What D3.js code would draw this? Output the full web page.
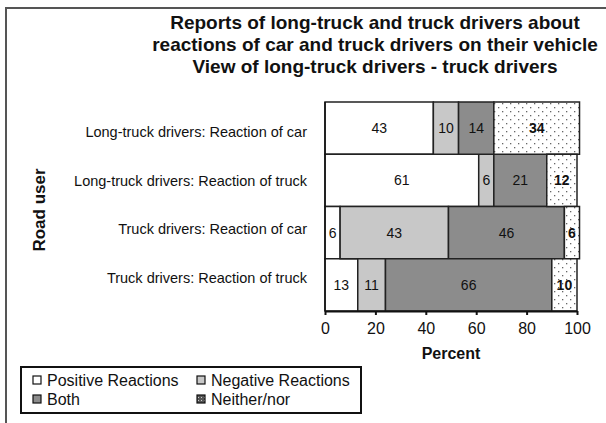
<!DOCTYPE html>
<html>
<head>
<meta charset="utf-8">
<script src="https://cdn.jsdelivr.net/npm/d3@7"></script>
<style>
  body { margin: 0; background: #fff; }
  text { font-family: "Liberation Sans", Arial, sans-serif; fill: #111; }
</style>
</head>
<body>
<div id="chart"></div>
<script>
// Chart data
var categories = [
  "Long-truck drivers: Reaction of car",
  "Long-truck drivers: Reaction of truck",
  "Truck drivers: Reaction of car",
  "Truck drivers: Reaction of truck"
];
var seriesNames = ["Positive Reactions", "Negative Reactions", "Both", "Neither/nor"];
var positive = [43, 61, 6, 13];
var negative = [10, 6, 43, 11];
var both = [14, 21, 46, 66];
var neither = [34, 12, 6, 10];
var xTicks = [0, 20, 40, 60, 80, 100];
var titleLines = [
  "Reports of long-truck and truck drivers about",
  "reactions of car and truck drivers on their vehicle",
  "View of long-truck drivers - truck drivers"
];

var svgWidth = 606;
var svgHeight = 423;
var margin = { top: 102, right: 29, bottom: 112, left: 325 };
var chartWidth = svgWidth - margin.left - margin.right;
var chartHeight = svgHeight - margin.top - margin.bottom;

var svg = d3.select("#chart")
  .append("svg")
  .attr("width", svgWidth)
  .attr("height", svgHeight);

// patterns for the dotted series
var defs = svg.append("defs");
var dots = defs.append("pattern")
  .attr("id", "dots")
  .attr("width", 8).attr("height", 8)
  .attr("patternUnits", "userSpaceOnUse");
dots.append("rect").attr("width", 8).attr("height", 8).attr("fill", "#fff");
dots.append("rect").attr("x", 1).attr("y", 1).attr("width", 1.3).attr("height", 1.3).attr("fill", "#666");
dots.append("rect").attr("x", 5).attr("y", 5).attr("width", 1.3).attr("height", 1.3).attr("fill", "#666");

var dotsDark = defs.append("pattern")
  .attr("id", "dotsDark")
  .attr("width", 3).attr("height", 3)
  .attr("patternUnits", "userSpaceOnUse");
dotsDark.append("rect").attr("width", 3).attr("height", 3).attr("fill", "#555");
dotsDark.append("rect").attr("x", 1).attr("y", 1).attr("width", 1).attr("height", 1).attr("fill", "#ccc");

var fills = ["#ffffff", "#c8c8c8", "#8c8c8c", "url(#dots)"];

// outer frame (only left and top edges visible)
svg.append("path")
  .attr("d", "M6," + svgHeight + "V8H" + svgWidth)
  .attr("fill", "none")
  .attr("stroke", "#555")
  .attr("stroke-width", 2);

// title
svg.append("g").selectAll("text")
  .data(titleLines)
  .enter()
  .append("text")
  .attr("x", 375)
  .attr("y", (d, i) => 29 + i * 22)
  .attr("text-anchor", "middle")
  .style("font-size", "19px")
  .style("font-weight", "bold")
  .text(d => d);

var chartGroup = svg.append("g")
  .attr("transform", `translate(${margin.left}, ${margin.top})`);

var rows = categories.map((c, i) => ({
  category: c,
  "Positive Reactions": positive[i],
  "Negative Reactions": negative[i],
  "Both": both[i],
  "Neither/nor": neither[i]
}));

var stacked = d3.stack().keys(seriesNames)(rows);

var xScale = d3.scaleLinear().domain([0, 100]).range([0, chartWidth]);
var yScale = d3.scaleBand().domain(categories).range([0, chartHeight]).padding(0);
// the category labels sit on a slightly narrower spread than the bars
var labelScale = d3.scalePoint().domain(categories).range([30, 176]);

var layers = chartGroup.selectAll(".layer")
  .data(stacked)
  .enter()
  .append("g")
  .attr("class", "layer")
  .attr("fill", (d, i) => fills[i]);

layers.selectAll("rect")
  .data(d => d)
  .enter()
  .append("rect")
  .attr("x", d => xScale(d[0]))
  .attr("y", d => yScale(d.data.category))
  .attr("width", d => xScale(d[1]) - xScale(d[0]))
  .attr("height", yScale.bandwidth())
  .attr("stroke", "#222")
  .attr("stroke-width", 1.5);

// value labels
layers.each(function(series, si) {
  d3.select(this).selectAll("text")
    .data(series)
    .enter()
    .append("text")
    .attr("x", d => xScale((d[0] + d[1]) / 2))
    .attr("y", d => yScale(d.data.category) + yScale.bandwidth() / 2)
    .attr("dy", "0.35em")
    .attr("text-anchor", "middle")
    .style("font-size", "14px")
    .style("font-weight", si === 3 ? "bold" : "normal")
    .style("fill", "#111")
    .text(d => d[1] - d[0]);
});

// x axis
var xAxis = d3.axisBottom(xScale).tickValues(xTicks).tickSize(4).tickSizeOuter(0).tickPadding(8);
var xg = chartGroup.append("g")
  .attr("transform", `translate(0, ${chartHeight})`)
  .call(xAxis);
xg.select(".domain").attr("stroke", "#111").attr("stroke-width", 2);
xg.selectAll(".tick line").attr("stroke", "#111").attr("stroke-width", 2);
xg.selectAll(".tick text")
  .style("font-size", "16px")
  .style("font-family", "'Liberation Sans', Arial, sans-serif")
  .attr("fill", "#111");

// y axis line and category labels
chartGroup.append("line")
  .attr("x1", 0).attr("x2", 0)
  .attr("y1", 0).attr("y2", chartHeight)
  .attr("stroke", "#111").attr("stroke-width", 1.5);

chartGroup.append("g").selectAll("text")
  .data(categories)
  .enter()
  .append("text")
  .attr("x", -18)
  .attr("y", d => labelScale(d))
  .attr("dy", "0.35em")
  .attr("text-anchor", "end")
  .style("font-size", "14.5px")
  .text(d => d);

// axis titles
svg.append("text")
  .attr("x", margin.left + chartWidth / 2)
  .attr("y", 359)
  .attr("text-anchor", "middle")
  .style("font-size", "16px")
  .style("font-weight", "bold")
  .text("Percent");

svg.append("text")
  .attr("transform", "translate(45, 210) rotate(-90)")
  .attr("text-anchor", "middle")
  .style("font-size", "17px")
  .style("font-weight", "bold")
  .text("Road user");

// legend
var legend = svg.append("g").attr("transform", "translate(21, 367)");
legend.append("rect")
  .attr("width", 340).attr("height", 46)
  .attr("fill", "#fff")
  .attr("stroke", "#111").attr("stroke-width", 2);

var legendFills = ["#ffffff", "#c8c8c8", "#8c8c8c", "url(#dotsDark)"];
var legendItems = legend.selectAll(".item")
  .data(seriesNames)
  .enter()
  .append("g")
  .attr("class", "item")
  .attr("transform", (d, i) => `translate(${i % 2 === 0 ? 12 : 176}, ${i < 2 ? 13 : 32})`);

legendItems.append("rect")
  .attr("x", 0).attr("y", -4)
  .attr("width", 8).attr("height", 8)
  .attr("fill", (d, i) => legendFills[i])
  .attr("stroke", "#111").attr("stroke-width", 1.2);

legendItems.append("text")
  .attr("x", 14)
  .attr("dy", "0.35em")
  .style("font-size", "16px")
  .text(d => d);
</script>
</body>
</html>
